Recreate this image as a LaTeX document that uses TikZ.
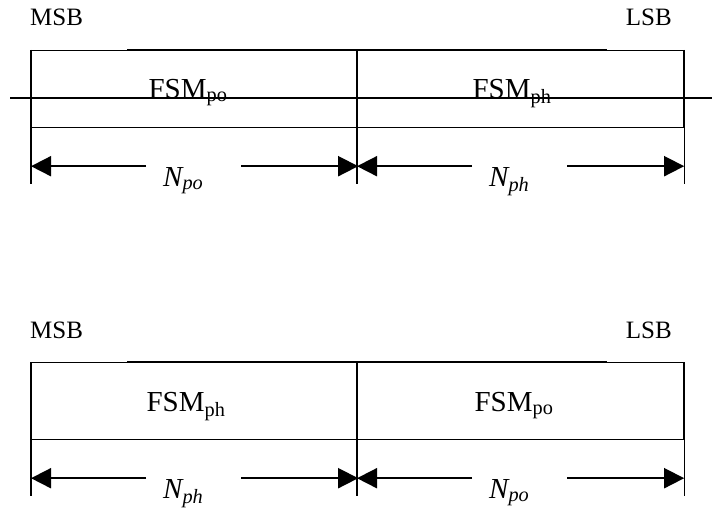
\documentclass[tikz,border=0pt]{standalone}
\usepackage{fontspec}
\setmainfont{Liberation Serif}
\usetikzlibrary{arrows.meta,calc,positioning}

\begin{document}
\begin{tikzpicture}[
    x=1pt,y=-1pt,
    field/.style={draw,line width=1.2pt,minimum width=326pt,
      minimum height=77pt,inner sep=0pt,anchor=north west},
    fsmname/.style={font=\fontsize{29}{33}\selectfont,inner sep=0pt,anchor=base},
    bitend/.style={font=\fontsize{25}{29}\selectfont,inner sep=0pt},
    nwidth/.style={font=\fontsize{29}{33}\selectfont\itshape,inner sep=0pt,
      text height=40pt,text depth=0pt,text width=95pt,align=left},
    tickline/.style={line width=1.2pt},
    dim/.style={-{Triangle[length=20pt,width=20pt]},line width=1.8pt}
  ]
    \useasboundingbox (0,0) rectangle (712,519);

    % upper layout
    \node[bitend,anchor=base west] (msbA) at (30,26) {MSB};
    \node[bitend,anchor=base east] (lsbA) at (672,26) {LSB};
    \node[field] (poA) at (31,50) {};
    \node[field] (phA) at (357,50) {};
    \draw[line width=1.5pt] (127,50) -- (607,50);
    \draw[line width=1.8pt] (10,98) -- (712,98);
    \node[fsmname] (fpoA) at ($(poA.north west)+(157,48)$) {FSM\textsubscript{po}};
    \node[fsmname] (fphA) at ($(phA.north west)+(155,48)$) {FSM\textsubscript{ph}};
    \draw[tickline] (poA.north west) -- ++(0,134);
    \draw[tickline] (phA.north west) -- ++(0,134);
    \draw[tickline] (phA.north east) -- ++(0,134);
    \node[nwidth,anchor=west] (npoA) at ($(poA.south west)+(115,38)$)
      {\hspace*{17pt}N\textsubscript{po}};
    \node[nwidth,anchor=west] (nphA) at ($(phA.south west)+(115,38)$)
      {\hspace*{17pt}N\textsubscript{ph}};
    \draw[dim] (npoA.west) -- (npoA.west -| poA.west);
    \draw[dim] (npoA.east) -- (npoA.east -| poA.east);
    \draw[dim] (nphA.west) -- (nphA.west -| phA.west);
    \draw[dim] (nphA.east) -- (nphA.east -| phA.east);

    % lower layout
    \node[bitend,anchor=base west] (msbB) at (30,338) {MSB};
    \node[bitend,anchor=base east] (lsbB) at (672,338) {LSB};
    \node[field] (phB) at (31,362) {};
    \node[field] (poB) at (357,362) {};
    \draw[line width=1.5pt] (127,362) -- (607,362);
    \node[fsmname] (fphB) at ($(phB.north west)+(155,49)$) {FSM\textsubscript{ph}};
    \node[fsmname] (fpoB) at ($(poB.north west)+(157,49)$) {FSM\textsubscript{po}};
    \draw[tickline] (phB.north west) -- ++(0,134);
    \draw[tickline] (poB.north west) -- ++(0,134);
    \draw[tickline] (poB.north east) -- ++(0,134);
    \node[nwidth,anchor=west] (nphB) at ($(phB.south west)+(115,38)$)
      {\hspace*{17pt}N\textsubscript{ph}};
    \node[nwidth,anchor=west] (npoB) at ($(poB.south west)+(115,38)$)
      {\hspace*{17pt}N\textsubscript{po}};
    \draw[dim] (nphB.west) -- (nphB.west -| phB.west);
    \draw[dim] (nphB.east) -- (nphB.east -| phB.east);
    \draw[dim] (npoB.west) -- (npoB.west -| poB.west);
    \draw[dim] (npoB.east) -- (npoB.east -| poB.east);
  \end{tikzpicture}
\end{document}
